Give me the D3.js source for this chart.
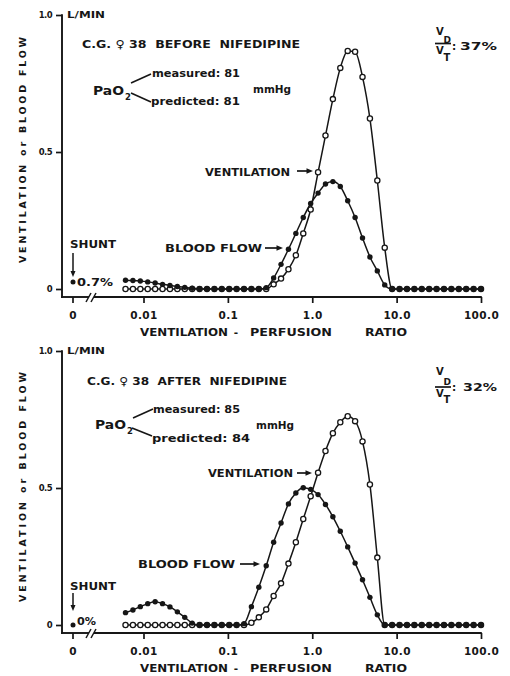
<!DOCTYPE html>
<html>
<head>
<meta charset="utf-8">
<script src="https://cdn.jsdelivr.net/npm/d3@7"></script>
<style>
  html, body { margin: 0; padding: 0; background: #fff; }
  svg { display: block; }
  text { font-family: "DejaVu Sans", "Liberation Sans", Arial, sans-serif; font-weight: 700; fill: #161616; white-space: pre; }
</style>
</head>
<body>
<svg id="chart" width="510" height="676"></svg>
<script>
// Ventilation-perfusion ratio of each lung compartment (log-spaced, 0.006 to 100)
const ratios = [
  0.006120, 0.007491, 0.009168, 0.01122, 0.01374, 0.01681, 0.02058, 0.02519, 0.03083, 0.03774,
  0.04619, 0.05654, 0.06920, 0.08470, 0.1037, 0.1269, 0.1553, 0.1901, 0.2327, 0.2848,
  0.3486, 0.4267, 0.5222, 0.6392, 0.7824, 0.9577, 1.172, 1.435, 1.756, 2.150,
  2.631, 3.220, 3.942, 4.825, 5.905, 7.228, 8.847, 10.83, 13.26, 16.22,
  19.86, 24.31, 29.75, 36.42, 44.57, 54.56, 66.78, 81.73, 100.0
];

// Before nifedipine (L/min)
const beforeVentilation = [
  0, 0, 0, 0, 0, 0, 0, 0, 0, 0,
  0, 0, 0, 0, 0, 0, 0, 0, 0, 0,
  0.017, 0.038, 0.072, 0.123, 0.203, 0.29, 0.426, 0.56, 0.693, 0.807,
  0.869, 0.866, 0.774, 0.622, 0.396, 0.151, 0, 0, 0, 0,
  0, 0, 0, 0, 0, 0, 0, 0, 0
];
const beforeBloodFlow = [
  0.032, 0.031, 0.029, 0.026, 0.022, 0.017, 0.013, 0.009, 0.006, 0.003,
  0.001, 0, 0, 0, 0, 0, 0, 0, 0, 0.005,
  0.04, 0.09, 0.145, 0.203, 0.261, 0.312, 0.35, 0.383, 0.392, 0.374,
  0.322, 0.261, 0.186, 0.117, 0.066, 0.015, 0, 0, 0, 0,
  0, 0, 0, 0, 0, 0, 0, 0, 0
];

// After nifedipine (L/min)
const afterVentilation = [
  0, 0, 0, 0, 0, 0, 0, 0, 0, 0,
  0, 0, 0, 0, 0, 0, 0, 0.008, 0.028, 0.057,
  0.106, 0.152, 0.224, 0.302, 0.387, 0.47, 0.556, 0.635, 0.70, 0.74,
  0.762, 0.744, 0.67, 0.513, 0.246, 0, 0, 0, 0, 0,
  0, 0, 0, 0, 0, 0, 0, 0, 0
];
const afterBloodFlow = [
  0.045, 0.055, 0.067, 0.078, 0.085, 0.078, 0.066, 0.048, 0.028, 0.007,
  0, 0, 0, 0, 0, 0, 0.005, 0.067, 0.138, 0.216,
  0.302, 0.372, 0.442, 0.482, 0.501, 0.495, 0.476, 0.44, 0.395, 0.342,
  0.285, 0.226, 0.165, 0.101, 0.037, 0, 0, 0, 0, 0,
  0, 0, 0, 0, 0, 0, 0, 0, 0
];

// Shunt (% of cardiac output), dead space (% of tidal volume), PaO2 (mmHg)
const shuntPercent = [0.7, 0];
const shuntLabels = ["0.7%", "0%"];
const deadSpaceLabels = ["37%", "32%"];
const pao2Measured = [81, 85];
const pao2Predicted = [81, 84];
const titles = ["C.G. \u2640 38  BEFORE  NIFEDIPINE", "C.G. \u2640 38  AFTER  NIFEDIPINE"];

// Axis ticks
const xTicks = [0.01, 0.1, 1, 10, 100];
const xTickLabels = ["0.01", "0.1", "1.0", "10.0", "100.0"];
const yTicks = [0, 0.5, 1];
const yTickLabels = ["0", "0.5", "1.0"];

// ---------------------------------------------------------------
const svg = d3.select("#chart");
const ink = "#161616";
const FONT = "'DejaVu Sans', 'Liberation Sans', Arial, sans-serif";

const x = d3.scaleLog().domain([0.01, 100]).range([143.5, 481]);
const shuntX = 73;

// per-panel layout (local coordinates, panel shifted down by dy)
const layouts = [
  { dy: 0, yTop: 15, yZero: 289, axisY: 297,
    title: { x: 82, y: 48, w: 218 },
    pao: { x: 93, y: 95, mx: 152, my: 77, mw: 88, px: 151, py: 105, pw: 89, unitX: 253, unitY: 93,
           up: [131, 83, 151, 74], dn: [131, 93, 151, 102] },
    vdvt: { vTop: 35, dSub: 42.5, bar: 43.5, vBot: 53.5, tSub: 61, pctY: 49.5, pctX: 460, pctW: 37 },
    vent: { x: 205, y: 176, w: 85, ax0: 297, ax1: 313, ay: 171 },
    flow: { x: 165, y: 252, w: 97, ax0: 265, ax1: 283, ay: 248 },
    shunt: { y: 248, a0: 253, a1: 277, ty: 286, tw: 36 },
    yTitle: { a: 263, b: 37 } },
  { dy: 336, yTop: 15, yZero: 289, axisY: 297,
    title: { x: 87, y: 49, w: 200 },
    pao: { x: 95, y: 93, mx: 153, my: 77, mw: 87, px: 152, py: 106, pw: 98, unitX: 256, unitY: 93,
           up: [133, 82, 153, 73], dn: [132, 92, 152, 100] },
    vdvt: { vTop: 39, dSub: 48.5, bar: 51, vBot: 61, tSub: 67, pctY: 55, pctX: 463, pctW: 34 },
    vent: { x: 208, y: 141, w: 85, ax0: 297, ax1: 312, ay: 137 },
    flow: { x: 138, y: 232, w: 97, ax0: 240, ax1: 260, ay: 228 },
    shunt: { y: 254, a0: 257, a1: 275, ty: 289, tw: 19 },
    yTitle: { a: 266, b: 36 } }
];

const panels = [
  { ventilation: beforeVentilation, bloodFlow: beforeBloodFlow },
  { ventilation: afterVentilation, bloodFlow: afterBloodFlow }
];

function txt(g, s, xx, yy, size, opts = {}) {
  const t = g.append("text").attr("x", xx).attr("y", yy).attr("font-size", size).text(s);
  if (opts.anchor) t.attr("text-anchor", opts.anchor);
  if (opts.len) t.attr("textLength", opts.len).attr("lengthAdjust", opts.adjust || "spacingAndGlyphs");
  if (opts.ls != null) t.attr("letter-spacing", opts.ls);
  return t;
}

function arrowRight(g, x0, x1, yy) {
  g.append("line").attr("x1", x0).attr("x2", x1 - 4).attr("y1", yy).attr("y2", yy)
    .attr("stroke", ink).attr("stroke-width", 1.7);
  g.append("path").attr("d", `M${x1},${yy} L${x1 - 6.5},${yy - 2.8} L${x1 - 6.5},${yy + 2.8} Z`).attr("fill", ink);
}

panels.forEach((p, k) => {
  const L = layouts[k];
  const g = svg.append("g").attr("transform", `translate(0,${L.dy})`);
  const y = d3.scaleLinear().domain([0, 1]).range([L.yZero, L.yTop]);

  const ventPts = ratios.map((r, i) => ({ r, v: p.ventilation[i] }));
  const flowPts = ratios.map((r, i) => ({ r, v: p.bloodFlow[i] }));

  // --- axes ---
  const yAxis = d3.axisLeft(y).tickValues(yTicks).tickFormat((d, i) => yTickLabels[i]).tickSize(6).tickPadding(4);
  const ya = g.append("g").attr("transform", "translate(62,0)").call(yAxis);
  ya.select(".domain").remove();
  ya.selectAll(".tick line").attr("stroke", ink).attr("stroke-width", 1.7);
  ya.selectAll(".tick text").attr("font-size", 8.5).attr("fill", ink).attr("letter-spacing", -0.6)
    .attr("font-family", FONT).attr("font-weight", 700);
  g.append("line").attr("x1", 62).attr("x2", 62).attr("y1", L.yTop - 0.8).attr("y2", L.axisY + 0.9)
    .attr("stroke", ink).attr("stroke-width", 1.9);

  const xAxis = d3.axisBottom(x).tickValues(xTicks).tickFormat((d, i) => xTickLabels[i]).tickSize(6);
  const xa = g.append("g").attr("transform", `translate(0,${L.axisY})`).call(xAxis);
  xa.select(".domain").remove();
  xa.selectAll(".tick line").attr("stroke", ink).attr("stroke-width", 1.7);
  xa.selectAll(".tick text").attr("font-size", 10.5).attr("fill", ink).attr("letter-spacing", 0.4)
    .attr("y", 22).attr("dy", 0)
    .attr("font-family", FONT).attr("font-weight", 700);

  // zero tick for the shunt compartment
  g.append("line").attr("x1", shuntX).attr("x2", shuntX).attr("y1", L.axisY).attr("y2", L.axisY + 6)
    .attr("stroke", ink).attr("stroke-width", 1.7);
  txt(g, "0", shuntX, L.axisY + 22, 10.5, { anchor: "middle" });

  // x axis line with a break
  g.append("line").attr("x1", 61).attr("x2", 89).attr("y1", L.axisY).attr("y2", L.axisY)
    .attr("stroke", ink).attr("stroke-width", 1.9);
  g.append("line").attr("x1", 94).attr("x2", x(100) + 0.8).attr("y1", L.axisY).attr("y2", L.axisY)
    .attr("stroke", ink).attr("stroke-width", 1.9);
  [[86, 91], [91, 96]].forEach(([a, b]) => {
    g.append("line").attr("x1", a).attr("y1", L.axisY + 5).attr("x2", b).attr("y2", L.axisY - 4)
      .attr("stroke", ink).attr("stroke-width", 1.5);
  });

  txt(g, "L/MIN", 67, L.yTop + 3, 8.5, { len: 38 });

  // x axis title
  const xt = L.axisY + 39;
  txt(g, "VENTILATION", 140, xt, 10.5, { len: 88 });
  txt(g, "-", 236, xt, 10.5, { anchor: "middle" });
  txt(g, "PERFUSION", 250, xt, 10.5, { len: 82 });
  txt(g, "RATIO", 365, xt, 10.5, { len: 42 });

  // y axis title (reads bottom to top)
  g.append("text").attr("transform", `translate(25.5,${L.yTitle.a}) rotate(-90)`)
    .attr("font-size", 9.5).attr("textLength", L.yTitle.a - L.yTitle.b).attr("lengthAdjust", "spacing")
    .text("VENTILATION or BLOOD FLOW");

  // --- annotations ---
  txt(g, titles[k], L.title.x, L.title.y, 11, { len: L.title.w });

  // PaO2 bracket
  const P = L.pao;
  txt(g, "PaO", P.x, P.y, 11.5, { len: 31 });
  txt(g, "2", P.x + 32, P.y + 5, 8.5);
  txt(g, "measured: " + pao2Measured[k], P.mx, P.my, 10.5, { len: P.mw });
  txt(g, "predicted: " + pao2Predicted[k], P.px, P.py, 10.5, { len: P.pw });
  txt(g, "mmHg", P.unitX, P.unitY, 10.5, { len: 38 });
  [P.up, P.dn].forEach(([a, b, c, d]) => {
    g.append("line").attr("x1", a).attr("y1", b).attr("x2", c).attr("y2", d)
      .attr("stroke", ink).attr("stroke-width", 1.6);
  });

  // VD / VT
  const V = L.vdvt;
  txt(g, "V", 436, V.vTop, 10);
  txt(g, "D", 443.5, V.dSub, 9);
  g.append("line").attr("x1", 435).attr("x2", 451).attr("y1", V.bar).attr("y2", V.bar)
    .attr("stroke", ink).attr("stroke-width", 1.7);
  txt(g, "V", 436, V.vBot, 10);
  txt(g, "T", 443.5, V.tSub, 10);
  txt(g, ":", 452, V.pctY, 10.5);
  txt(g, deadSpaceLabels[k], V.pctX, V.pctY, 10.5, { len: V.pctW });

  // series labels with arrows
  txt(g, "VENTILATION", L.vent.x, L.vent.y, 10.5, { len: L.vent.w });
  arrowRight(g, L.vent.ax0, L.vent.ax1, L.vent.ay);
  txt(g, "BLOOD FLOW", L.flow.x, L.flow.y, 10.5, { len: L.flow.w });
  arrowRight(g, L.flow.ax0, L.flow.ax1, L.flow.ay);

  // shunt
  txt(g, "SHUNT", 70, L.shunt.y, 10.5, { len: 46 });
  g.append("line").attr("x1", shuntX).attr("x2", shuntX).attr("y1", L.shunt.a0).attr("y2", L.shunt.a1 - 4)
    .attr("stroke", ink).attr("stroke-width", 1.5);
  g.append("path").attr("d", `M${shuntX},${L.shunt.a1} L${shuntX - 2.5},${L.shunt.a1 - 6} L${shuntX + 2.5},${L.shunt.a1 - 6} Z`)
    .attr("fill", ink);
  const totalFlow = d3.sum(p.bloodFlow);
  const shuntFlow = totalFlow * shuntPercent[k] / 100;
  g.append("circle").attr("cx", shuntX).attr("cy", y(shuntFlow)).attr("r", 2.5).attr("fill", ink);
  txt(g, shuntLabels[k], 77, L.shunt.ty, 10.5, { len: L.shunt.tw });

  // --- curves ---
  const line = d3.line().x(d => x(d.r)).y(d => y(d.v)).curve(d3.curveMonotoneX);
  g.append("path").datum(ventPts).attr("d", line).attr("fill", "none").attr("stroke", ink).attr("stroke-width", 1.5);
  g.append("path").datum(flowPts).attr("d", line).attr("fill", "none").attr("stroke", ink).attr("stroke-width", 1.5);

  g.append("g").selectAll("circle").data(ventPts).join("circle")
    .attr("cx", d => x(d.r)).attr("cy", d => y(d.v)).attr("r", 2.6)
    .attr("fill", "#fff").attr("stroke", ink).attr("stroke-width", 1.3);
  g.append("g").selectAll("circle").data(flowPts).join("circle")
    .attr("cx", d => x(d.r)).attr("cy", d => y(d.v)).attr("r", 2.7)
    .attr("fill", ink);
});
</script>
</body>
</html>
